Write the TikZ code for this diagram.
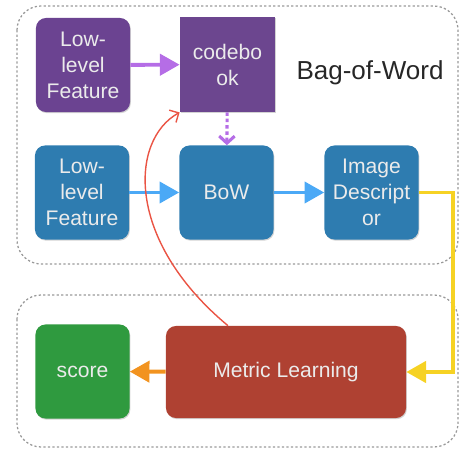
\documentclass[tikz,border=0pt]{standalone}
\usepackage{fontspec}
\setmainfont{Liberation Sans}
\usetikzlibrary{arrows.meta,shadows}
\definecolor{featpurple}{HTML}{6B4391}
\definecolor{bookpurple}{HTML}{6C468F}
\definecolor{stageblue}{HTML}{2E7CB0}
\definecolor{scoregreen}{HTML}{2F9A3F}
\definecolor{metricred}{HTML}{AF4132}
\definecolor{arrowpurple}{HTML}{B56DE6}
\definecolor{arrowblue}{HTML}{4BA9F6}
\definecolor{arrowyellow}{HTML}{F6D224}
\definecolor{arroworange}{HTML}{F2931F}
\definecolor{curvered}{HTML}{EA5444}
\begin{document}
\begin{tikzpicture}[x=0.025cm,y=-0.025cm,
        stage/.style={rectangle,rounded corners=2.5mm,fill=#1,text=white!92!black,align=center,
          font=\fontsize{15}{18.5}\selectfont,minimum width=2.35cm,minimum height=2.35cm,inner sep=1mm,
          drop shadow={opacity=0.35,shadow xshift=0.6pt,shadow yshift=-0.8pt}},
        group/.style={draw=gray!80,dash pattern=on 1.6pt off 1.6pt,line width=0.9pt,rounded corners=6mm},
        flow/.style={line width=2.8pt,-{Triangle[length=14pt,width=15pt]}}
      ]
      \useasboundingbox (0,0) rectangle (461,451);
      % dashed groups
      \draw[group] (17,6) rectangle (458,264);
      \draw[group] (17,295) rectangle (458,447);
      % nodes
      \node[stage=featpurple] (lowp) at (83,65) {Low-\\level\\Feature};
      \node[stage=bookpurple,rounded corners=0pt,minimum width=2.38cm,minimum height=2.38cm] (book) at (227.5,64.5) {codebo\\ok};
      \node[font=\fontsize{18.5}{22}\selectfont,text=black!85] (bag) at (370,73) {Bag-of-Word};
      \node[stage=stageblue] (lowb) at (82,192.5) {Low-\\level\\Feature};
      \node[stage=stageblue] (bow) at (226.5,192.5) {BoW};
      \node[stage=stageblue] (desc) at (371.5,192.5) {Image\\Descript\\or};
      \node[stage=scoregreen] (score) at (82.5,371.5) {score};
      \node[stage=metricred,minimum width=6cm,minimum height=2.3cm] (metric) at (286,372) {Metric Learning};
      % connectors
      \draw[flow,arrowpurple] (lowp) -- (book);
      \draw[arrowpurple,line width=2.2pt,dash pattern=on 2.5pt off 2pt,-{Straight Barb[length=5pt,width=11pt,line width=2.2pt]}] (book) -- (bow);
      \draw[flow,arrowblue] (lowb) -- (bow);
      \draw[flow,arrowblue] (bow) -- (desc);
      \draw[flow,arrowyellow] (desc.east) -- ++(34,0) |- (metric.east);
      \draw[flow,arroworange] (metric) -- (score);
      \draw[curvered,line width=1pt,-{Straight Barb[length=5pt,width=10pt]}]
        ([xshift=-1.45cm]metric.north) .. controls (125,240) and (130,140) .. (book.south west);
    \end{tikzpicture}
\end{document}
